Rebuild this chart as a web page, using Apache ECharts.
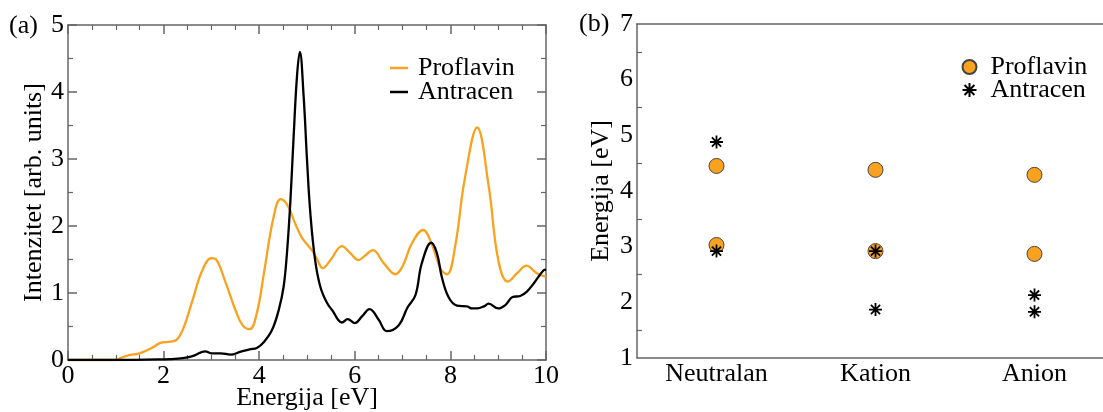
<!DOCTYPE html>
<html>
<head>
<meta charset="utf-8">
<script src="https://cdn.jsdelivr.net/npm/echarts@6/dist/echarts.min.js"></script>
<style>html,body{margin:0;padding:0;background:#fff}#c{width:1103px;height:412px}</style>
</head>
<body>
<div id="c"></div>
<script>
// ---------- Panel (a): absorption spectra ----------
const proflavinX = [0, 0.5, 1.0, 1.1, 1.3, 1.5, 1.8, 1.95, 2.1, 2.25, 2.4, 2.6, 2.8, 3.0, 3.1, 3.3, 3.5, 3.65, 3.8, 3.95, 4.1, 4.3, 4.45, 4.6, 4.75, 4.9, 5.1, 5.2, 5.33, 5.5, 5.73, 5.9, 6.08, 6.2, 6.38, 6.6, 6.85, 7.0, 7.2, 7.43, 7.6, 7.8, 7.93, 8.1, 8.3, 8.56, 8.8, 9.0, 9.2, 9.4, 9.59, 9.8, 10];
const proflavinY = [0, 0, 0, 0.03, 0.075, 0.1, 0.2, 0.26, 0.27, 0.29, 0.45, 0.88, 1.32, 1.52, 1.5, 1.15, 0.75, 0.52, 0.46, 0.7, 1.3, 2.13, 2.40, 2.3, 2.04, 1.82, 1.64, 1.52, 1.37, 1.5, 1.70, 1.6, 1.49, 1.55, 1.64, 1.45, 1.28, 1.4, 1.75, 1.94, 1.75, 1.35, 1.28, 1.7, 2.7, 3.47, 2.6, 1.5, 1.17, 1.3, 1.41, 1.3, 1.24];

const antracenX = [0, 1, 2.0, 2.3, 2.5, 2.65, 2.87, 3.0, 3.2, 3.4, 3.6, 3.8, 3.95, 4.1, 4.27, 4.41, 4.51, 4.58, 4.65, 4.72, 4.79, 4.85, 4.93, 5.0, 5.07, 5.17, 5.28, 5.42, 5.55, 5.65, 5.73, 5.85, 6.0, 6.15, 6.31, 6.5, 6.67, 6.92, 7.1, 7.27, 7.4, 7.6, 7.72, 7.82, 7.96, 8.14, 8.35, 8.45, 8.56, 8.7, 8.8, 9.0, 9.15, 9.3, 9.46, 9.6, 9.75, 9.95, 10];
const antracenY = [0, 0, 0.01, 0.02, 0.04, 0.07, 0.13, 0.1, 0.1, 0.08, 0.12, 0.16, 0.18, 0.27, 0.45, 0.75, 1.09, 1.59, 2.34, 3.33, 4.23, 4.60, 3.93, 2.99, 2.19, 1.49, 1.09, 0.85, 0.72, 0.6, 0.56, 0.61, 0.55, 0.65, 0.76, 0.6, 0.43, 0.52, 0.78, 0.97, 1.44, 1.75, 1.59, 1.24, 0.94, 0.81, 0.80, 0.77, 0.77, 0.8, 0.84, 0.77, 0.82, 0.94, 0.955, 1.02, 1.15, 1.34, 1.35];

// ---------- Panel (b): energy levels ----------
const categories = ['Neutralan', 'Kation', 'Anion'];
const proflavinLevels = [['Neutralan', 4.45], ['Neutralan', 3.03], ['Kation', 4.38], ['Kation', 2.92], ['Anion', 4.29], ['Anion', 2.87]];
const antracenLevels = [['Neutralan', 4.88], ['Neutralan', 2.92], ['Kation', 2.92], ['Kation', 1.87], ['Anion', 2.13], ['Anion', 1.83]];

const FONT = 'Liberation Serif';
const FS = 26;
const ORANGE = '#f8a21f';
const AXC = '#666';
const zip = (xs, ys) => xs.map((x, i) => [x, ys[i]]);

const axisLine = { show: true, onZero: false, lineStyle: { color: AXC, width: 1.5 } };
const label = { fontFamily: FONT, fontSize: FS, color: '#000' };
const tick = { inside: true, length: 9, lineStyle: { color: AXC, width: 1.5 } };
const mtick = n => ({ show: true, splitNumber: n, length: 5, lineStyle: { color: AXC, width: 1.2 } });
const nameStyle = { fontFamily: FONT, fontSize: FS, color: '#000' };

const chart = echarts.init(document.getElementById('c'), null, { renderer: 'canvas' });
const stripName = n => n.replace(/ \(.\)$/, '');

chart.setOption({
  animation: false,
  textStyle: { fontFamily: FONT },
  grid: [
    { left: 68, top: 25, width: 478, height: 335, containLabel: false, outerBoundsMode: 'none' },
    { left: 637, top: 24, width: 477, height: 334, containLabel: false, outerBoundsMode: 'none' }
  ],
  xAxis: [
    { gridIndex: 0, type: 'value', min: 0, max: 10, interval: 2, position: 'bottom',
      name: 'Energija [eV]', nameLocation: 'middle', nameGap: 25, nameMoveOverlap: false, nameTextStyle: nameStyle,
      axisLine, splitLine: { show: false }, axisTick: tick, minorTick: mtick(4),
      axisLabel: { ...label, margin: 3 } },
    { gridIndex: 0, type: 'value', min: 0, max: 10, interval: 2, position: 'top',
      axisLine, splitLine: { show: false }, axisTick: tick, minorTick: mtick(4),
      axisLabel: { show: false } },
    { gridIndex: 1, type: 'category', data: categories, position: 'bottom', boundaryGap: true,
      axisLine, axisTick: { show: false }, splitLine: { show: false },
      axisLabel: { ...label, margin: 3 } },
    { gridIndex: 1, type: 'category', data: categories, position: 'top', boundaryGap: true,
      axisLine, axisTick: { show: false }, splitLine: { show: false },
      axisLabel: { show: false } }
  ],
  yAxis: [
    { gridIndex: 0, type: 'value', min: 0, max: 5, interval: 1, position: 'left',
      name: 'Intenzitet [arb. units]', nameLocation: 'middle', nameGap: 21, nameMoveOverlap: false, nameTextStyle: nameStyle,
      axisLine, splitLine: { show: false }, axisTick: tick, minorTick: mtick(2),
      axisLabel: { ...label, margin: 4 } },
    { gridIndex: 0, type: 'value', min: 0, max: 5, interval: 1, position: 'right',
      axisLine, splitLine: { show: false }, axisTick: tick, minorTick: mtick(2),
      axisLabel: { show: false } },
    { gridIndex: 1, type: 'value', min: 1, max: 7, interval: 1, position: 'left',
      name: 'Energija [eV]', nameLocation: 'middle', nameGap: 23, nameMoveOverlap: false, nameTextStyle: nameStyle,
      axisLine, splitLine: { show: false }, axisTick: tick, minorTick: mtick(2),
      axisLabel: { ...label, margin: 4 } }
  ],
  legend: [
    { data: ['Proflavin (a)', 'Antracen (a)'], orient: 'vertical', left: 385, top: 50,
      icon: 'rect', itemWidth: 18, itemHeight: 2.5, itemGap: -2, selectedMode: false, formatter: stripName,
      textStyle: { fontFamily: FONT, fontSize: FS, color: '#000', lineHeight: 26, padding: [0, 0, 0, 5] } },
    { data: ['Proflavin (b)', 'Antracen (b)'], orient: 'vertical', left: 955, top: 49,
      itemWidth: 14, itemHeight: 14, itemGap: -3, selectedMode: false, formatter: stripName,
      textStyle: { fontFamily: FONT, fontSize: FS, color: '#000', lineHeight: 26, padding: [0, 0, 0, 9] } }
  ],
  graphic: [
    { type: 'text', left: 9, top: 13, style: { text: '(a)', font: '26px "Liberation Serif"', fill: '#000' } },
    { type: 'text', left: 579, top: 11, style: { text: '(b)', font: '26px "Liberation Serif"', fill: '#000' } }
  ],
  series: [
    { name: 'Proflavin (a)', type: 'line', xAxisIndex: 0, yAxisIndex: 0, data: zip(proflavinX, proflavinY),
      smooth: 0.4, showSymbol: false, symbol: 'none', lineStyle: { color: ORANGE, width: 2.3 }, itemStyle: { color: ORANGE } },
    { name: 'Antracen (a)', type: 'line', xAxisIndex: 0, yAxisIndex: 0, data: zip(antracenX, antracenY),
      smooth: 0.4, showSymbol: false, symbol: 'none', lineStyle: { color: '#000', width: 2.3 }, itemStyle: { color: '#000' } },
    { name: 'Proflavin (b)', type: 'scatter', xAxisIndex: 2, yAxisIndex: 2, data: proflavinLevels,
      symbol: 'circle', symbolSize: 15, itemStyle: { color: ORANGE, borderColor: '#444', borderWidth: 1, opacity: 1 } },
    { name: 'Antracen (b)', type: 'scatter', xAxisIndex: 2, yAxisIndex: 2, data: antracenLevels,
      symbol: 'path://M0,-10L0,10M-10,0L10,0M-7.07,-7.07L7.07,7.07M-7.07,7.07L7.07,-7.07', symbolSize: 13,
      itemStyle: { color: 'none', borderColor: '#000', borderWidth: 1.8, opacity: 1 } }
  ]
});
</script>
</body>
</html>
